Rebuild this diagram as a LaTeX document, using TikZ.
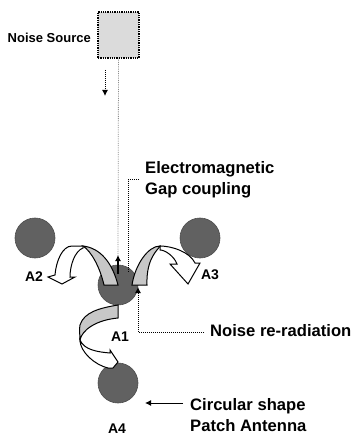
\documentclass[tikz,border=0pt]{standalone}
\usepackage{fontspec}
\setmainfont{Liberation Sans}
\usetikzlibrary{arrows.meta}
\tikzset{
  x=1pt,y=-1pt,
  patch/.style={circle,minimum size=40pt,inner sep=0pt,fill=black!62,draw=black!70,line width=0.6pt},
  lab/.style={font=\bfseries\fontsize{14}{16}\selectfont,inner sep=0pt,text=black},
  big/.style={font=\bfseries\fontsize{16.6}{21}\selectfont,inner sep=0pt,align=left,anchor=west,text=black},
  srcbox/.style={draw=black,line width=1.3pt,densely dotted,fill=black!14,inner sep=0pt,minimum width=41pt,minimum height=46pt},
  lead/.style={draw=black,line width=1pt,densely dotted},
  leadarrow/.style={lead,-{Latex[length=6pt,width=6pt,black]}},
  wave/.style={draw=black,line width=1pt,fill=white},
  band/.style={fill=black!22,draw=black,line width=1pt}
}
\begin{document}
\begin{tikzpicture}
\useasboundingbox (0,0) rectangle (355,438);
\fill[white] (0,0) rectangle (355,438);
% patches
\node[patch] (a2) at (35,238) {};
\node[patch] (a3) at (200,238) {};
\node[patch] (a1) at (118,285) {};
\node[patch] (a4) at (118,383) {};
% source
\node[srcbox] (src) at (118.5,35) {};
\node[font=\bfseries\fontsize{13}{16}\selectfont,inner sep=0pt,anchor=east] (srct) at (91,38) {Noise Source};
\coordinate (s1) at (105,70);
\coordinate (s2) at (105,96);
\draw[leadarrow] (s1) -- (s2);
\draw[draw=black!45,line width=0.8pt,densely dotted] (src.south) -- (a1.north);
% left wave
\draw[band] (104,285) .. controls (100,268) and (92,252) .. (83,246)
  .. controls (100,248) and (112,262) .. (118,285) -- cycle;
\draw[wave] (83,246) -- (72,246) .. controls (62,246) and (56,262) .. (55,275)
  -- (48,277) -- (62,284) -- (75,277) -- (70,277)
  .. controls (70,265) and (75,251) .. (83,248) -- cycle;
% right wave
\draw[band] (132,285) .. controls (135,265) and (148,246) .. (160,246)
  .. controls (158,250) and (146,258) .. (147,285) -- cycle;
\draw[wave] (160,246) .. controls (172,246) and (190,252) .. (195,263)
  -- (200,263) -- (188,284) -- (170,264) -- (177,264)
  .. controls (174,256) and (165,250) .. (160,250) -- cycle;
% lower wave
\draw[band] (118,305) .. controls (100,308) and (84,312) .. (80,325)
  .. controls (79,330) and (80,335) .. (80,340)
  .. controls (82,330) and (96,320) .. (118,318) -- cycle;
\draw[wave] (80,340) .. controls (84,350) and (98,352) .. (110,353) -- (110,350) -- (118,362)
  -- (113,368) -- (108,368) .. controls (95,365) and (80,352) .. (80,340) -- cycle;
% labels on the patches
\node[lab] (la2) at (34,277) {A2};
\node[lab] (la3) at (210,275) {A3};
\node[lab] (la1) at (120,337) {A1};
\node[lab] (la4) at (117,429) {A4};
% gap coupling
\node[big] (em) at (145,180) {Electromagnetic\\Gap coupling};
\coordinate (e1) at (139,180);
\coordinate (e2) at (128,180);
\coordinate (e3) at (128,272);
\draw[lead] (e1) -- (e2) -- (e3);
\coordinate (u1) at (118,274);
\coordinate (u2) at (118,255);
\draw[-{Latex[length=6pt,width=6pt,black]},line width=1.2pt] (u1) -- (u2);
% re-radiation
\node[big] (nr) at (210,331) {Noise re-radiation};
\coordinate (n2) at (138,332);
\coordinate (n3) at (138,287);
\draw[leadarrow] (nr.west) ++(-6,1) -- (n2) -- (n3);
% circular
\node[big] (cs) at (190,415.5) {Circular shape\\Patch Antenna};
\coordinate (c1) at (183,403);
\coordinate (c2) at (145,403);
\draw[draw=black,line width=1pt,-{Latex[length=6pt,width=6pt,black]}] (c1) -- (c2);
\end{tikzpicture}
\end{document}
